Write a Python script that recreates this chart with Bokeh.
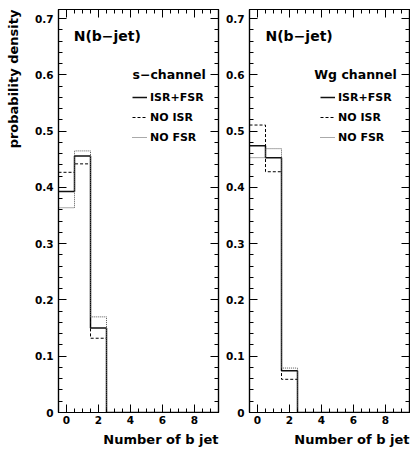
import numpy as np
from bokeh.plotting import figure
from bokeh.layouts import row
from bokeh.models import (Range1d, LinearAxis, SingleIntervalTicker, Label, Legend,
                          LegendItem, Title, CustomLabelingPolicy)
from bokeh.embed import file_html
from bokeh.resources import INLINE

# ---- data ----
n_bjet = [0, 1, 2, 3, 4, 5, 6, 7, 8, 9]
s_isr_fsr = [0.393, 0.456, 0.150, 0, 0, 0, 0, 0, 0, 0]
s_no_isr = [0.427, 0.442, 0.132, 0, 0, 0, 0, 0, 0, 0]
s_no_fsr = [0.364, 0.465, 0.170, 0, 0, 0, 0, 0, 0, 0]
wg_isr_fsr = [0.474, 0.453, 0.074, 0, 0, 0, 0, 0, 0, 0]
wg_no_isr = [0.511, 0.428, 0.059, 0, 0, 0, 0, 0, 0, 0]
wg_no_fsr = [0.453, 0.469, 0.079, 0, 0, 0, 0, 0, 0, 0]
series_names = ["ISR+FSR", "NO ISR", "NO FSR"]
title_text = "N(b\u2212jet)"
channels = ["s\u2212channel", "Wg channel"]
x_title = "Number of b jet"
y_title = "probability density"

FONT = "DejaVu Sans"
STYLES = [
    dict(line_color="#111111", line_width=1.5, line_dash="solid"),
    dict(line_color="#000000", line_width=1.0, line_dash="3 2"),
    dict(line_color="#555555", line_width=1.0, line_dash="1 1"),
]


def step_xy(centers, vals):
    edges = np.concatenate([np.array(centers, float) - 0.5, [centers[-1] + 0.5]])
    xs = np.repeat(edges, 2)[1:-1]
    ys = np.repeat(np.array(vals, float), 2)
    return xs, ys


def style_axis(ax, labels):
    ax.axis_line_color = "black"
    ax.axis_line_width = 1.2
    ax.major_tick_in = 8
    ax.major_tick_out = 0
    ax.minor_tick_in = 4
    ax.minor_tick_out = 0
    ax.major_tick_line_color = "black"
    ax.minor_tick_line_color = "black"
    ax.major_tick_line_width = 1
    ax.minor_tick_line_width = 1
    if labels:
        ax.major_label_text_font = FONT
        ax.major_label_text_font_style = "bold"
        ax.major_label_text_font_size = "10.5px"
        ax.major_label_text_color = "black"
    else:
        ax.major_label_policy = CustomLabelingPolicy(code="return new Set()")
        ax.major_label_text_font_size = "0px"
        ax.major_label_standoff = 0


def make_panel(data, channel, width, bl, br, show_ytitle, leg_loc, title_x, margin):
    p = figure(width=width, height=451, output_backend="svg", toolbar_location=None,
               x_range=Range1d(-0.5, 9.5), y_range=Range1d(0, 0.7164),
               min_border_left=bl, min_border_right=br, min_border_top=9, min_border_bottom=39,
               margin=margin)
    p.xgrid.visible = False
    p.ygrid.visible = False
    p.outline_line_color = "black"
    p.outline_line_width = 1.2
    p.background_fill_color = "white"
    p.border_fill_color = "white"

    p.xaxis.ticker = SingleIntervalTicker(interval=2, num_minor_ticks=4)
    p.yaxis.ticker = SingleIntervalTicker(interval=0.1, num_minor_ticks=5)
    style_axis(p.xaxis[0], True)
    style_axis(p.yaxis[0], True)
    p.xaxis.major_label_standoff = 3
    p.yaxis.major_label_standoff = 5
    p.yaxis.major_label_overrides = {0: "0"}

    top = LinearAxis(ticker=SingleIntervalTicker(interval=2, num_minor_ticks=4))
    right = LinearAxis(ticker=SingleIntervalTicker(interval=0.1, num_minor_ticks=5))
    style_axis(top, False)
    style_axis(right, False)
    p.add_layout(top, "above")
    p.add_layout(right, "right")

    items = []
    for vals, name, st in zip(data, series_names, STYLES):
        xs, ys = step_xy(n_bjet, vals)
        r = p.line(xs, ys, **st)
        items.append(LegendItem(label=name, renderers=[r]))

    leg = Legend(items=items, location=leg_loc, padding=0, margin=0, spacing=0,
                 glyph_width=15, glyph_height=20, label_height=20, label_standoff=3,
                 label_text_font=FONT, label_text_font_style="bold",
                 label_text_font_size="11px", label_text_color="black",
                 border_line_color=None, background_fill_alpha=0)
    p.add_layout(leg, "center")

    p.add_layout(Label(x=title_x, y=0.67, text=title_text, text_font=FONT,
                       text_font_style="bold", text_font_size="14px",
                       text_baseline="middle", text_color="black"))
    p.add_layout(Label(x=8.7, y=0.6, text=channel, text_font=FONT,
                       text_font_style="bold", text_font_size="12.5px",
                       text_align="right", text_baseline="middle", text_color="black"))
    p.add_layout(Title(text=x_title, align="right", text_font=FONT,
                       text_font_style="bold", text_font_size="13px",
                       text_color="black", standoff=7), "below")
    if show_ytitle:
        p.add_layout(Title(text=y_title, align="right", text_font=FONT,
                           text_font_style="bold", text_font_size="13px",
                           text_color="black", standoff=22), "left")
    return p


p1 = make_panel([s_isr_fsr, s_no_isr, s_no_fsr], channels[0], 230, 66, 4, True, (74, 265), 0.45,
                (0, 0, 0, -8))
p2 = make_panel([wg_isr_fsr, wg_no_isr, wg_no_fsr], channels[1], 188, 27, 1, False, (71, 265), 0.5,
                (0, 0, 0, 0))

layout = row(p1, p2, spacing=0)
open("out.html", "w").write(file_html(layout, INLINE))
